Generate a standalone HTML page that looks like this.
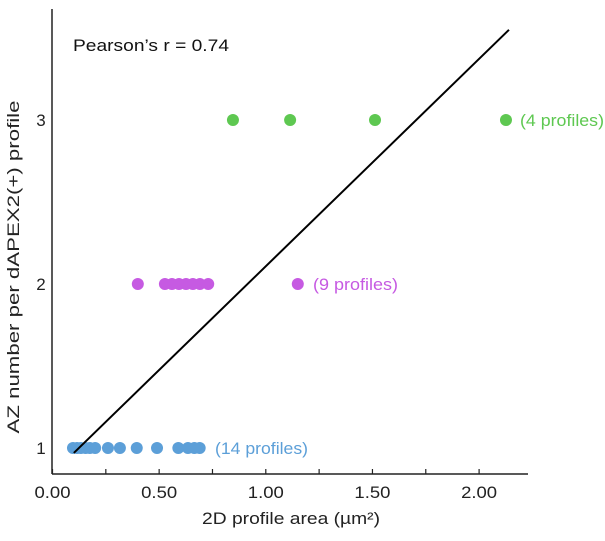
<!DOCTYPE html>
<html><head><meta charset="utf-8"><style>
html,body{margin:0;padding:0;background:#fff;}
svg text{font-family:"Liberation Sans",Arial,sans-serif;}
</style></head><body>
<svg id="chart" width="605" height="536" viewBox="0 0 605 536"></svg>
<script>
const xTicks=[0,0.5,1.0,1.5,2.0];
const xTickLabels=["0.00","0.50","1.00","1.50","2.00"];
const xMinorTicks=[0.25,0.75,1.25,1.75];
const yTicks=[1,2,3];
const blueX=[0.096,0.115,0.133,0.155,0.175,0.2,0.26,0.316,0.395,0.49,0.59,0.635,0.665,0.69];
const magentaX=[0.40,0.527,0.56,0.593,0.626,0.658,0.691,0.73,1.15];
const greenX=[0.846,1.114,1.512,2.126];
const fitX=[0.1,2.14];
const fitY=[0.97,3.55];
const NS="http://www.w3.org/2000/svg";
const svg=document.getElementById('chart');
const sx=v=>52.5+v*213.3;
const sy=v=>448-(v-1)*164;
function mk(tag,attrs,parent){const e=document.createElementNS(NS,tag);for(const k in attrs)e.setAttribute(k,attrs[k]);(parent||svg).appendChild(e);return e;}
let e;
e=mk('line',{x1:52,y1:9,x2:52,y2:474,stroke:'#222','stroke-width':1.5});


e=mk('line',{x1:52,y1:474,x2:528,y2:474,stroke:'#222','stroke-width':1.5});


xTicks.concat(xMinorTicks).forEach(v=>{
 e=mk('line',{x1:sx(v),y1:469,x2:sx(v),y2:474,stroke:'#222','stroke-width':1.2});
 
 
});
xTicks.forEach((v,i)=>{
 e=mk('text',{x:sx(v),y:498,'text-anchor':'middle','font-size':17,fill:'#222',textLength:36,lengthAdjust:'spacingAndGlyphs'});
 e.textContent=xTickLabels[i];
 
 
});
yTicks.forEach(v=>{
 e=mk('text',{x:41,y:sy(v)+6,'text-anchor':'middle','font-size':17,fill:'#222'});
 e.textContent=String(v);
 
 
});
e=mk('text',{x:291,y:524,'text-anchor':'middle','font-size':17,fill:'#222',textLength:178,lengthAdjust:'spacingAndGlyphs'});
e.textContent='2D profile area (µm²)';


e=mk('text',{x:0,y:0,'text-anchor':'middle','font-size':17,fill:'#222',textLength:333,lengthAdjust:'spacingAndGlyphs',transform:'translate(19,267) rotate(-90)'});
e.textContent='AZ number per dAPEX2(+) profile';


e=mk('text',{x:73,y:51,'font-size':17,fill:'#111',textLength:156,lengthAdjust:'spacingAndGlyphs'});
e.textContent='Pearson’s r = 0.74';


function dots(arr,yv,color,name){
 arr.forEach(v=>{
  e=mk('circle',{cx:sx(v),cy:sy(yv),r:6,fill:color});
  
  
 });
}
dots(blueX,1,'#5c9fd8','point-az1');
dots(magentaX,2,'#c65ae2','point-az2');
dots(greenX,3,'#5ec851','point-az3');
e=mk('line',{x1:sx(fitX[0]),y1:sy(fitY[0]),x2:sx(fitX[1]),y2:sy(fitY[1]),stroke:'#000','stroke-width':2});


function lab(txt,x,y,color,name,w){
 e=mk('text',{x:x,y:y,'font-size':17,fill:color,textLength:w,lengthAdjust:'spacingAndGlyphs'});
 e.textContent=txt;
 
 
}
lab('(14 profiles)',215,sy(1)+6,'#5c9fd8','label-14-profiles',93);
lab('(9 profiles)',313,sy(2)+6,'#c65ae2','label-9-profiles',85);
lab('(4 profiles)',520,sy(3)+6,'#5ec851','label-4-profiles',84);
</script>
</body></html>
